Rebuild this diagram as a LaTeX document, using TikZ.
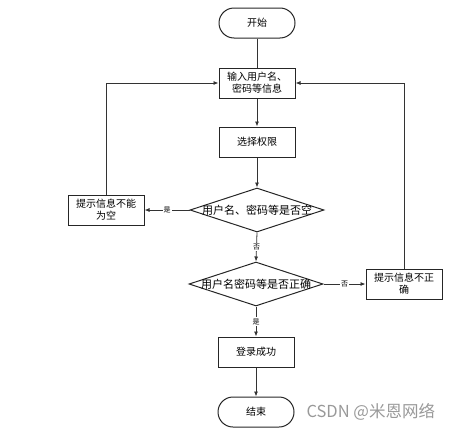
\documentclass[tikz,border=0pt]{standalone}
\usepackage{fontspec}
\setmainfont{Noto Sans CJK SC}
\usetikzlibrary{arrows.meta,positioning,shapes.geometric}
\definecolor{chartline}{HTML}{333333}
\tikzset{
 lc flow/.style={-{Latex[length=5pt,width=4pt]},line width=.8pt,draw=chartline},
 lc block/.style={draw=black!85,line width=1pt,minimum width=76pt,minimum height=30pt,
   align=center,inner sep=1pt,font=\fontsize{10}{12}\selectfont},
 lc terminal/.style={lc block,rounded corners=15pt},
 lc decision/.style={diamond,draw=black!85,line width=1pt,minimum width=134pt,
   minimum height=44pt,inner sep=0pt},
 lc dtext/.style={font=\fontsize{11}{12}\selectfont,inner sep=0pt},
 lc tag/.style={fill=white,inner sep=1pt,font=\fontsize{7}{7}\selectfont}
}
\begin{document}
\begin{tikzpicture}[x=1pt,y=-1pt]
\useasboundingbox (0,0) rectangle (457,431);
\node[lc terminal] (start) at (257,23) {开始};
\node[lc block] (input) at (257,83) {输入用户名、\\密码等信息};
\node[lc block] (role) at (257,142) {选择权限};
\node[lc decision,label={[lc dtext]center:用户名、密码等是否空}] (empty) at (257,210) {};
\node[lc block] (warnempty) at (106,210) {提示信息不能\\为空};
\node[lc decision,label={[lc dtext]center:用户名密码等是否正确}] (check) at (256,284) {};
\node[lc block] (warnwrong) at (404,284) {提示信息不正\\确};
\node[lc block] (ok) at (256,352) {登录成功};
\node[lc terminal] (stop) at (256,412) {结束};
\node[text=black!40,font=\fontsize{16.5}{17}\selectfont,anchor=west] (mark) at (303,412) {CSDN @米恩网络};
% main line
\draw[line width=.8pt,draw=chartline] (start)--(input);
\draw[lc flow] (input)--(role);
\draw[lc flow] (role)--(empty);
\draw[lc flow] (empty.west)--node[lc tag]{是}(warnempty.east);
\draw[lc flow] (warnempty.north)|-(input.west);
\draw[lc flow] (empty.south)--node[lc tag]{否}(check.north);
\draw[lc flow] (check.east)--node[lc tag]{否}(warnwrong.west);
\draw[lc flow] (warnwrong.north)|-(input.east);
\draw[lc flow] (check.south)--node[lc tag]{是}(ok.north);
\draw[lc flow] (ok)--(stop);
\end{tikzpicture}
\end{document}
